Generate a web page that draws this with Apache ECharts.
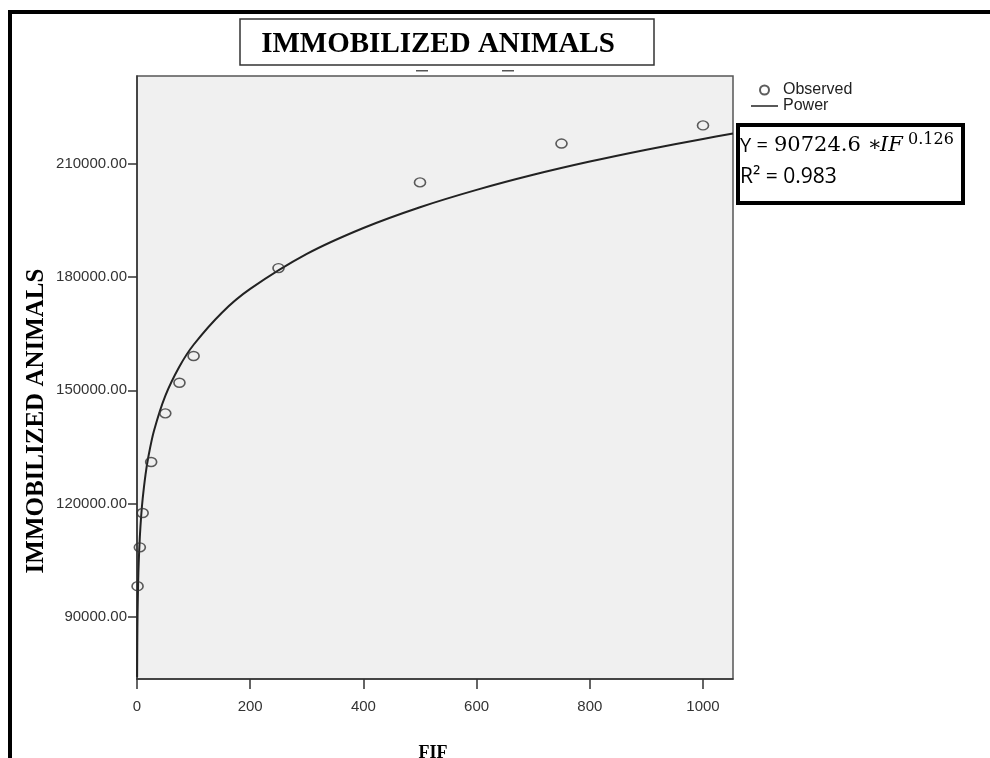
<!DOCTYPE html>
<html><head><meta charset="utf-8">
<script src="https://cdn.jsdelivr.net/npm/echarts@6/dist/echarts.min.js"></script>
<style>html,body{margin:0;padding:0;background:#fff;}#c{width:990px;height:758px;}</style>
</head><body><div id="c"></div>
<script>
// ---- data ----
const chartTitle = 'IMMOBILIZED ANIMALS';
const xAxisTitle = 'FIF';
const yAxisTitle = 'IMMOBILIZED ANIMALS';
const legendNames = ['Observed', 'Power'];
const observedFIF = [1, 5, 10, 25, 50, 75, 100, 250, 500, 750, 1000];
const observedValues = [98100, 108400, 117500, 131000, 143900, 152000, 159100, 182400, 205100, 215400, 220200];
// fitted power line
const powerCurveFIF = [0.2, 0.5, 1, 2, 3, 5, 7.5, 10, 15, 20, 30, 50, 75, 100, 150, 200, 300, 400, 500, 600, 700, 800, 900, 1000, 1053];
const powerCurveValues = [74000, 83140, 90725, 99010, 104200, 111120, 116950, 121260, 127620, 132330, 139260, 148520, 156310, 162080, 170580, 176870, 186140, 193010, 198520, 203120, 207120, 210630, 213780, 216630, 218050];
const xTickValues = [0, 200, 400, 600, 800, 1000];
const yTickValues = [90000, 120000, 150000, 180000, 210000];
const eqPrefix = 'Y = ';
const eqCoefficient = '90724.6 \u2217 ';
const eqVariable = 'IF';
const eqExponent = '0.126';
const r2Text = 'R\u00B2 = 0.983';

const observedData = observedFIF.map((x, i) => [x, observedValues[i]]);
const powerData = powerCurveFIF.map((x, i) => [x, powerCurveValues[i]]);

const chart = echarts.init(document.getElementById('c'), null, {renderer: 'canvas'});
const axisFont = 'Liberation Sans, Arial, sans-serif';
const serif = 'Liberation Serif, Times New Roman, serif';

chart.setOption({
  backgroundColor: '#ffffff',
  animation: false,
  grid: {
    left: 137, top: 76, right: 257, bottom: 79,
    show: true, backgroundColor: '#f0f0f0', borderColor: '#555', borderWidth: 1.5
  },
  legend: {
    orient: 'vertical', left: 746, top: 77,
    itemWidth: 27, itemHeight: 9, itemGap: 0,
    textStyle: {fontFamily: axisFont, fontSize: 16, color: '#222', lineHeight: 16},
    data: [
      {name: legendNames[0], icon: 'circle'},
      {name: legendNames[1], icon: 'path://M0,4 L27,4 L27,5.5 L0,5.5 Z', itemStyle: {color: '#222'}}
    ]
  },
  xAxis: {
    type: 'value', min: 0, max: 1053,
    axisLine: {show: true, onZero: false, lineStyle: {color: '#333', width: 1.5}},
    axisTick: {show: true, length: 10, customValues: xTickValues, lineStyle: {color: '#333', width: 1.5}},
    axisLabel: {customValues: xTickValues, margin: 20, fontFamily: axisFont, fontSize: 15, color: '#333',
      formatter: v => String(v)},
    splitLine: {show: false}
  },
  yAxis: {
    type: 'value', min: 73500, max: 233300,
    axisLine: {show: true, onZero: false, lineStyle: {color: '#333', width: 1.5}},
    axisTick: {show: true, length: 9, customValues: yTickValues, lineStyle: {color: '#333', width: 1.5}},
    axisLabel: {customValues: yTickValues, margin: 10, fontFamily: axisFont, fontSize: 15, color: '#333',
      formatter: v => v.toFixed(2)},
    splitLine: {show: false}
  },
  series: [
    {
      name: legendNames[0], type: 'scatter', data: observedData,
      symbol: 'circle', symbolSize: [11, 9], z: 3,
      itemStyle: {color: 'rgba(0,0,0,0)', borderColor: '#333', borderWidth: 1.5}
    },
    {
      name: legendNames[1], type: 'line', data: powerData, smooth: 0.3,
      symbol: 'none', showSymbol: false, clip: true, z: 2,
      lineStyle: {color: '#222', width: 2}, itemStyle: {color: '#222'}
    }
  ],
  graphic: [
    // outer frame (left + top thick lines)
    {type: 'rect', shape: {x: 8, y: 10, width: 4, height: 760}, style: {fill: '#000'}},
    {type: 'rect', shape: {x: 8, y: 10, width: 990, height: 4}, style: {fill: '#000'}},
    // title box
    {type: 'rect', shape: {x: 240, y: 19, width: 414, height: 46}, style: {fill: '#fff', stroke: '#333', lineWidth: 1.5}},
    {type: 'text', x: 438, y: 45, style: {text: chartTitle, fontFamily: serif, fontWeight: 'bold', fontSize: 29, fill: '#000', align: 'center', verticalAlign: 'middle'}},
    {type: 'rect', shape: {x: 416, y: 70, width: 12, height: 1.5}, style: {fill: '#555'}},
    {type: 'rect', shape: {x: 502, y: 70, width: 12, height: 1.5}, style: {fill: '#555'}},
    // axis titles
    {type: 'text', x: 37, y: 421, rotation: Math.PI / 2, style: {text: yAxisTitle, fontFamily: serif, fontWeight: 'bold', fontSize: 25, fill: '#000', align: 'center', verticalAlign: 'middle'}},
    {type: 'text', x: 433, y: 753, style: {text: xAxisTitle, fontFamily: serif, fontWeight: 'bold', fontSize: 18, fill: '#000', align: 'center', verticalAlign: 'middle'}},
    // equation box
    {type: 'rect', shape: {x: 738, y: 125, width: 225, height: 78}, style: {fill: '#fff', stroke: '#000', lineWidth: 4}},
    {type: 'text', x: 740, y: 146, style: {text: eqPrefix, fontFamily: 'Open Sans, sans-serif', fontSize: 20, fill: '#000', align: 'left', verticalAlign: 'middle'}},
    {type: 'text', x: 774, y: 146, style: {text: eqCoefficient, fontFamily: 'DejaVu Serif, serif', fontSize: 21, fill: '#000', align: 'left', verticalAlign: 'middle'}},
    {type: 'text', x: 880, y: 146, style: {text: eqVariable, fontFamily: 'DejaVu Serif, serif', fontStyle: 'italic', fontSize: 21, fill: '#000', align: 'left', verticalAlign: 'middle'}},
    {type: 'text', x: 908, y: 140, style: {text: eqExponent, fontFamily: 'DejaVu Serif, serif', fontSize: 16, fill: '#000', align: 'left', verticalAlign: 'middle'}},
    {type: 'text', x: 740, y: 177, style: {text: r2Text, fontFamily: 'Open Sans, sans-serif', fontSize: 21, fill: '#000', align: 'left', verticalAlign: 'middle'}}
  ]
});
</script>
</body></html>
